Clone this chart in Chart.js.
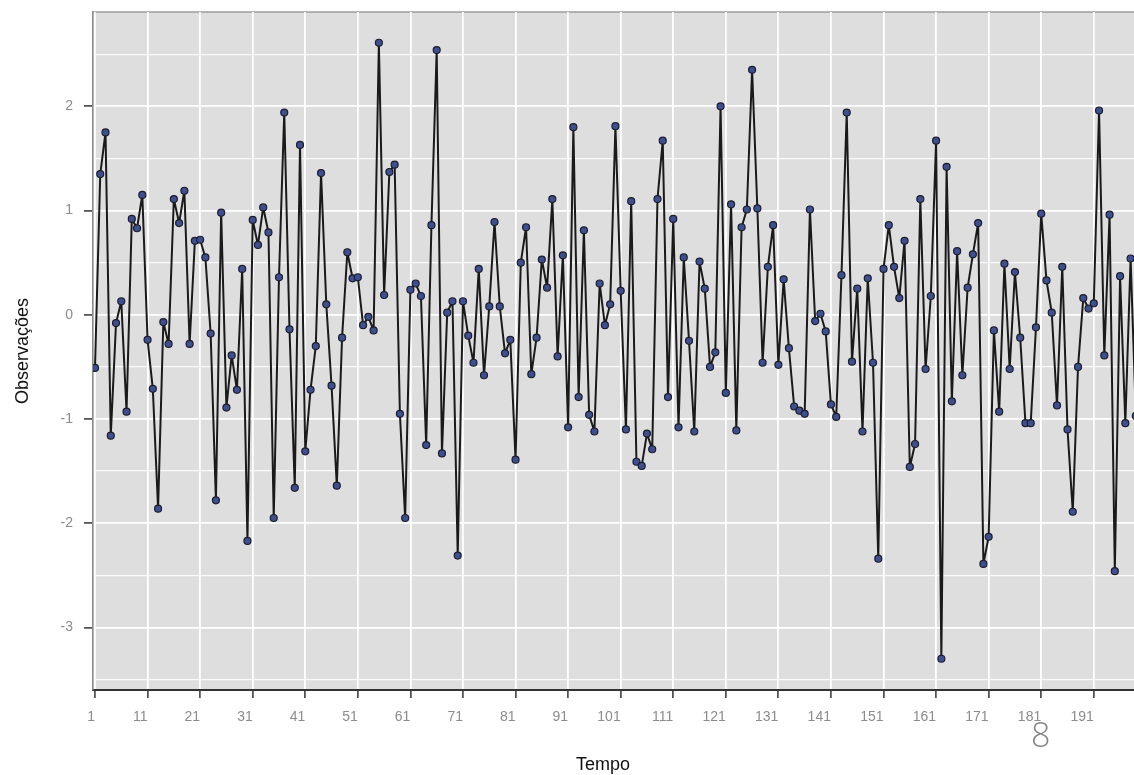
<!DOCTYPE html>
<html>
<head>
<meta charset="utf-8">
<script src="https://cdn.jsdelivr.net/npm/chart.js@4.4.1/dist/chart.umd.min.js"></script>
<style>
  html, body { margin: 0; padding: 0; background: #fff; overflow: hidden; }
  #wrap { position: relative; width: 1134px; height: 775px; overflow: hidden; }
  #slide_num {
    position: absolute; left: 1031px; top: 711px;
    font: 300 34px "Open Sans", sans-serif; color: #858585;
  }
  #x_title {
    position: absolute; left: 553px; top: 754px; width: 100px;
    text-align: center; line-height: 20px;
    font: 18px "Liberation Sans", Arial, sans-serif; color: #111;
  }
</style>
</head>
<body>
<div id="wrap">
  <canvas id="serie_chart" width="1140" height="775"></canvas>
  <div id="x_title">Tempo</div>
  <div id="slide_num">8</div>
</div>
<script>
// observed values, one per time step (1..199)
const observacoes = [
  -0.51, 1.35, 1.75, -1.16, -0.08, 0.13, -0.93, 0.92, 0.83, 1.15,
  -0.24, -0.71, -1.86, -0.07, -0.28, 1.11, 0.88, 1.19, -0.28, 0.71,
  0.72, 0.55, -0.18, -1.78, 0.98, -0.89, -0.39, -0.72, 0.44, -2.17,
  0.91, 0.67, 1.03, 0.79, -1.95, 0.36, 1.94, -0.14, -1.66, 1.63,
  -1.31, -0.72, -0.30, 1.36, 0.10, -0.68, -1.64, -0.22, 0.60, 0.35,
  0.36, -0.10, -0.02, -0.15, 2.61, 0.19, 1.37, 1.44, -0.95, -1.95,
  0.24, 0.30, 0.18, -1.25, 0.86, 2.54, -1.33, 0.02, 0.13, -2.31,
  0.13, -0.20, -0.46, 0.44, -0.58, 0.08, 0.89, 0.08, -0.37, -0.24,
  -1.39, 0.50, 0.84, -0.57, -0.22, 0.53, 0.26, 1.11, -0.40, 0.57,
  -1.08, 1.80, -0.79, 0.81, -0.96, -1.12, 0.30, -0.10, 0.10, 1.81,
  0.23, -1.10, 1.09, -1.41, -1.45, -1.14, -1.29, 1.11, 1.67, -0.79,
  0.92, -1.08, 0.55, -0.25, -1.12, 0.51, 0.25, -0.50, -0.36, 2.00,
  -0.75, 1.06, -1.11, 0.84, 1.01, 2.35, 1.02, -0.46, 0.46, 0.86,
  -0.48, 0.34, -0.32, -0.88, -0.92, -0.95, 1.01, -0.06, 0.01, -0.16,
  -0.86, -0.98, 0.38, 1.94, -0.45, 0.25, -1.12, 0.35, -0.46, -2.34,
  0.44, 0.86, 0.46, 0.16, 0.71, -1.46, -1.24, 1.11, -0.52, 0.18,
  1.67, -3.30, 1.42, -0.83, 0.61, -0.58, 0.26, 0.58, 0.88, -2.39,
  -2.13, -0.15, -0.93, 0.49, -0.52, 0.41, -0.22, -1.04, -1.04, -0.12,
  0.97, 0.33, 0.02, -0.87, 0.46, -1.10, -1.89, -0.50, 0.16, 0.06,
  0.11, 1.96, -0.39, 0.96, -2.46, 0.37, -1.04, 0.54, -0.97
];

// x axis tick labels (Tempo)
const tempoTicks = [1, 11, 21, 31, 41, 51, 61, 71, 81, 91,
  101, 111, 121, 131, 141, 151, 161, 171, 181, 191];

// y axis: labelled ticks and half-unit minor grid
const yLabels = [-3, -2, -1, 0, 1, 2];
const yGrid = [-3.5, -3, -2.5, -2, -1.5, -1, -0.5, 0, 0.5, 1, 1.5, 2, 2.5];

const pontos = observacoes.map((v, i) => ({ x: i + 1, y: v }));

/* =========================
   Gray panel behind the plot
========================= */
const panelBackground = {
  id: 'panelBackground',
  beforeDraw(chart) {
    const { ctx, chartArea: a } = chart;
    ctx.save();
    ctx.fillStyle = '#dedede';
    ctx.fillRect(a.left, a.top, a.right - a.left, a.bottom - a.top);
    // top edge of the panel
    ctx.strokeStyle = '#9c9c9c';
    ctx.lineWidth = 1.5;
    ctx.beginPath();
    ctx.moveTo(a.left, a.top);
    ctx.lineTo(a.right, a.top);
    ctx.stroke();
    ctx.restore();
  }
};

const ctx = document.getElementById('serie_chart').getContext('2d');

new Chart(ctx, {
  type: 'line',
  data: {
    datasets: [{
      data: pontos,
      borderColor: '#1a1a1a',
      borderWidth: 2,
      borderJoinStyle: 'round',
      tension: 0,
      pointRadius: 3.5,
      pointBorderWidth: 1.2,
      pointBackgroundColor: '#3d4f8f',
      pointBorderColor: '#1c1c2c'
    }]
  },
  options: {
    responsive: false,
    animation: false,
    devicePixelRatio: 1,
    layout: { padding: { top: 12, right: 0, left: 0, bottom: 0 } },
    plugins: {
      legend: { display: false },
      tooltip: { enabled: false }
    },
    scales: {
      x: {
        type: 'linear',
        min: 0.62,
        max: 198.8,
        afterBuildTicks: scale => {
          scale.ticks = tempoTicks.map(v => ({ value: v }));
        },
        afterFit: scale => {
          scale.height = 85;
          scale.paddingLeft = 0;
          scale.paddingRight = 0;
        },
        ticks: {
          align: 'end',
          padding: 11,
          color: '#8c8c8c',
          font: { family: 'Liberation Sans, Arial, sans-serif', size: 14 },
          callback: v => String(v)
        },
        grid: {
          color: '#ffffff',
          lineWidth: 1.8,
          tickLength: 8,
          tickColor: '#333',
          tickWidth: 1.5
        },
        border: { display: true, color: '#333', width: 2 },
        // axis title "Tempo" is the #x_title div, placed where the original has it
        title: { display: false }
      },
      y: {
        min: -3.6,
        max: 2.905,
        afterBuildTicks: scale => {
          scale.ticks = yGrid.map(v => ({ value: v }));
        },
        afterFit: scale => {
          scale.width = 93;
          scale.paddingTop = 0;
          scale.paddingBottom = 0;
        },
        ticks: {
          padding: 11,
          color: '#8c8c8c',
          font: { family: 'Liberation Sans, Arial, sans-serif', size: 14 },
          callback: v => (yLabels.includes(v) ? String(v) : '')
        },
        grid: {
          color: c => (yLabels.includes(c.tick.value) ? '#ffffff' : 'rgba(255,255,255,0.85)'),
          lineWidth: c => (yLabels.includes(c.tick.value) ? 1.8 : 1.3),
          tickLength: 9,
          tickColor: c => (yLabels.includes(c.tick.value) ? '#333' : 'rgba(0,0,0,0)'),
          tickWidth: 1.5
        },
        border: { display: true, color: '#8a8a8a', width: 1.5 },
        title: {
          display: true,
          text: 'Observações',
          color: '#111',
          font: { family: 'Liberation Sans, Arial, sans-serif', size: 18 },
          padding: { top: 12, bottom: 0 }
        }
      }
    }
  },
  plugins: [panelBackground]
});
</script>
</body>
</html>
